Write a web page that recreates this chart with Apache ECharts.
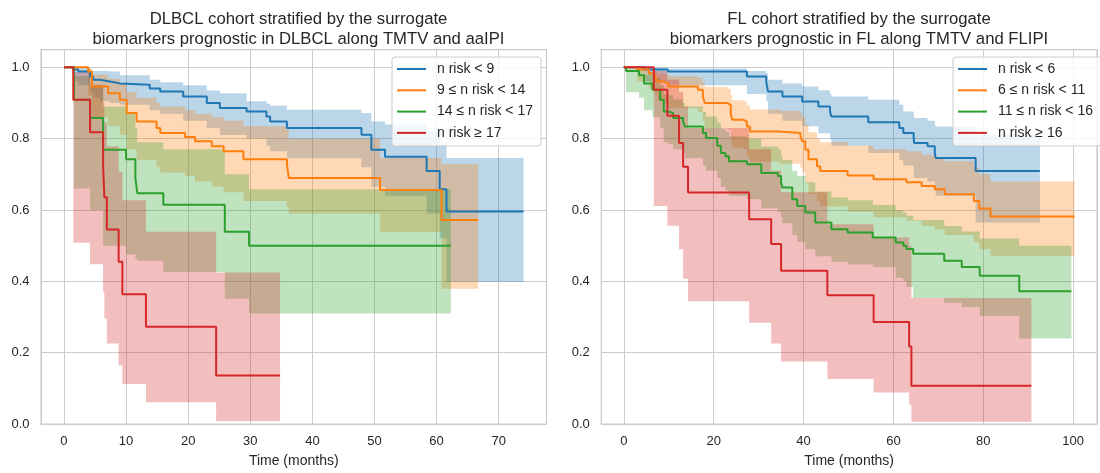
<!DOCTYPE html>
<html><head><meta charset="utf-8">
<script src="https://cdn.jsdelivr.net/npm/echarts@6/dist/echarts.min.js"></script>
<style>html,body{margin:0;padding:0;background:#fff}#c{width:1100px;height:473px}</style>
</head><body><div id="c"></div>
<script>
// ---------- data: rows are [time (months), survival, CI lower, CI upper] ----------
const dlbclTitle = 'DLBCL cohort stratified by the surrogate\nbiomarkers prognostic in DLBCL along TMTV and aaIPI';
const flTitle = 'FL cohort stratified by the surrogate\nbiomarkers prognostic in FL along TMTV and FLIPI';
const xLabel = 'Time (months)';
const dlbclNames = ['n risk < 9', '9 \u2264 n risk < 14', '14 \u2264 n risk < 17', 'n risk \u2265 17'];
const flNames = ['n risk < 6', '6 \u2264 n risk < 11', '11 \u2264 n risk < 16', 'n risk \u2265 16'];
const yTicks = [0, 0.2, 0.4, 0.6, 0.8, 1.0];
const dlbclXTicks = [0, 10, 20, 30, 40, 50, 60, 70];
const flXTicks = [0, 20, 40, 60, 80, 100];

const dlbclG1 = [
 [0,1,1,1],[1.5,.994,.96,.999],[2.3,.988,.95,.998],[4.2,.974,.93,.99],[4.7,.965,.915,.99],
 [5.8,.96,.905,.99],[7.4,.955,.90,.988],[9.0,.951,.895,.978],[13.8,.941,.88,.965],[15.5,.932,.87,.958],
 [19.2,.918,.85,.95],[23.0,.90,.83,.935],[25.1,.886,.81,.927],[29.4,.876,.80,.905],[32.6,.862,.78,.898],
 [33.2,.848,.765,.892],[35.9,.830,.745,.881],[47.9,.811,.72,.872],[49.5,.769,.665,.848],[51.7,.749,.64,.84],
 [58.4,.709,.59,.82],[60.5,.658,.52,.79],[61.6,.596,.398,.746],[74.0,.596,.398,.746]
];
const dlbclG2 = [
 [0,1,1,1],[3.9,.988,.92,.998],[4.5,.946,.86,.98],[7.1,.927,.835,.968],[9.0,.909,.81,.957],
 [10.1,.872,.77,.93],[11.7,.848,.74,.915],[14.9,.830,.72,.90],[15.5,.816,.705,.89],[19.5,.805,.695,.88],
 [21.1,.793,.68,.87],[23.8,.779,.665,.86],[25.7,.765,.65,.85],[28.9,.742,.625,.835],[35.9,.728,.61,.825],
 [36.2,.690,.59,.80],[50.9,.656,.538,.746],[60.8,.572,.379,.728],[66.7,.572,.379,.728]
];
const dlbclG3 = [
 [0,1,1,1],[1.6,.909,.66,.976],[4.2,.858,.60,.95],[6.3,.769,.50,.89],[10.0,.742,.475,.87],
 [11.5,.69,.462,.83],[11.8,.647,.458,.79],[16.0,.615,.426,.77],[25.9,.539,.351,.70],[29.8,.50,.31,.658],
 [62.3,.50,.31,.658]
];
const dlbclG4 = [
 [0,1,1,1],[1.5,.909,.508,.987],[4.2,.818,.448,.951],[6.3,.727,.37,.903],[6.5,.636,.296,.845],
 [6.9,.545,.226,.779],[8.8,.455,.165,.707],[9.4,.364,.112,.627],[13.2,.273,.061,.539],[24.5,.136,.008,.425],
 [34.8,.136,.008,.425]
];

const flG1 = [
 [0,1,1,1],[4.5,.994,.96,.999],[9.8,.988,.95,.997],[27.4,.974,.925,.99],[31.7,.96,.905,.983],
 [32.1,.932,.87,.965],[35.3,.918,.85,.955],[39.7,.904,.835,.946],[43.3,.89,.815,.936],[45.9,.876,.80,.926],
 [46.2,.862,.78,.918],[54.4,.846,.76,.909],[61.3,.830,.74,.895],[62.2,.816,.725,.876],[64.5,.806,.71,.87],
 [64.6,.788,.69,.858],[67.6,.779,.68,.85],[69.2,.760,.655,.838],[69.4,.746,.64,.834],[78.3,.709,.565,.811],
 [92.6,.709,.565,.811]
];
const flG2 = [
 [0,1,1,1],[3.0,.994,.96,.999],[5.6,.983,.94,.995],[6.7,.978,.93,.992],[7.1,.969,.92,.988],
 [7.5,.96,.905,.983],[8.9,.955,.90,.98],[9.9,.946,.885,.975],[16.5,.937,.875,.97],[17.6,.918,.85,.957],
 [18.0,.90,.83,.945],[23.0,.895,.825,.94],[23.8,.872,.795,.922],[24.1,.853,.775,.908],[26.6,.848,.77,.905],
 [27.4,.834,.75,.893],[28.1,.820,.735,.882],[34.6,.816,.73,.878],[39.3,.808,.72,.872],[39.7,.793,.705,.86],
 [40.4,.769,.675,.84],[41.1,.742,.645,.818],[43.0,.723,.625,.80],[43.7,.709,.61,.79],[49.8,.697,.595,.78],
 [55.6,.686,.58,.77],[62.9,.678,.57,.765],[66.3,.667,.555,.755],[69.2,.658,.545,.748],[71.4,.644,.53,.737],
 [77.9,.625,.51,.72],[79.1,.604,.49,.70],[81.6,.582,.472,.68],[100.3,.582,.472,.68]
];
const flG3 = [
 [0,1,1,1],[0.5,.99,.93,.999],[3.4,.978,.915,.993],[4.5,.955,.88,.98],[6.4,.937,.86,.97],
 [8.1,.909,.83,.95],[8.9,.876,.79,.925],[9.9,.872,.785,.922],[11.0,.858,.77,.91],[13.2,.848,.76,.90],
 [13.6,.834,.745,.89],[17.6,.816,.725,.875],[18.3,.802,.71,.862],[20.8,.78,.69,.845],[21.6,.760,.665,.828],
 [22.6,.751,.655,.82],[23.4,.737,.64,.807],[27.4,.728,.63,.80],[30.6,.704,.605,.778],[34.3,.695,.595,.77],
 [35.0,.677,.578,.754],[35.3,.663,.563,.74],[37.5,.630,.53,.71],[38.6,.611,.51,.695],[40.4,.593,.49,.678],
 [42.6,.565,.47,.652],[46.2,.546,.455,.635],[49.8,.537,.447,.627],[55.4,.523,.44,.614],[60.5,.509,.41,.60],
 [62.2,.50,.40,.592],[62.9,.491,.384,.584],[64.4,.477,.353,.572],[71.3,.458,.34,.555],[75.2,.44,.328,.54],
 [79.2,.416,.303,.52],[88.0,.372,.24,.50],[99.6,.372,.24,.50]
];
const flG4 = [
 [0,1,1,1],[6.7,.937,.611,.99],[9.7,.864,.556,.965],[12.3,.788,.49,.93],[13.2,.721,.407,.89],
 [14.3,.649,.344,.83],[27.9,.574,.284,.77],[32.8,.505,.226,.71],[35.0,.430,.175,.65],[45.3,.361,.126,.56],
 [55.6,.286,.088,.523],[63.5,.217,.054,.50],[64.0,.107,.006,.353],[90.7,.107,.006,.353]
];

// ---------- styling ----------
const FONT = "'Liberation Sans', Arial, Helvetica, sans-serif";
const COLORS = ['#1f77b4', '#ff7f0e', '#2ca02c', '#d62728'];
const TXT = '#262626';
const GRIDC = '#cccccc';
const CI_ALPHA = 0.3;

function rgba(hex, a) {
  const n = parseInt(hex.slice(1), 16);
  return 'rgba(' + (n >> 16 & 255) + ',' + (n >> 8 & 255) + ',' + (n & 255) + ',' + a + ')';
}

function bandSeries(rows, color, idx) {
  return {
    type: 'custom', xAxisIndex: idx, yAxisIndex: idx, silent: true, z: 1, clip: true,
    data: [[rows[0][0], rows[0][1]]],
    renderItem: function (params, api) {
      const up = [], lo = [];
      for (let i = 0; i < rows.length; i++) {
        const t0 = rows[i][0];
        const t1 = i + 1 < rows.length ? rows[i + 1][0] : rows[i][0];
        up.push(api.coord([t0, rows[i][3]]), api.coord([t1, rows[i][3]]));
        lo.push(api.coord([t0, rows[i][2]]), api.coord([t1, rows[i][2]]));
      }
      const pts = up.concat(lo.reverse());
      return {type: 'polygon', shape: {points: pts}, style: {fill: rgba(color, CI_ALPHA), stroke: null}};
    }
  };
}
function lineSeries(rows, name, color, idx) {
  return {type: 'line', name: name, xAxisIndex: idx, yAxisIndex: idx, step: 'end', symbol: 'none',
    silent: true, z: 3, data: rows.map(r => [r[0], r[1]]),
    lineStyle: {color: color, width: 2}, itemStyle: {color: color}};
}

function near(list, v) { return list.some(t => Math.abs(t - v) < 1e-6); }

function xAxis(idx, min, max, step, ticks) {
  return {type: 'value', gridIndex: idx, min, max, minInterval: step, maxInterval: step,
    name: xLabel, nameLocation: 'middle', nameGap: 30,
    nameTextStyle: {color: TXT, fontFamily: FONT, fontSize: 14},
    axisLine: {show: false}, axisTick: {show: false},
    axisLabel: {color: TXT, fontFamily: FONT, fontSize: 13, margin: 10.5,
      formatter: v => near(ticks, v) ? String(Math.round(v)) : ''},
    splitLine: {show: true, lineStyle: {color: GRIDC, width: 1}}};
}
function yAxis(idx) {
  return {type: 'value', gridIndex: idx, min: 0, max: 1.05, interval: 0.2,
    axisLine: {show: false}, axisTick: {show: false},
    axisLabel: {color: TXT, fontFamily: FONT, fontSize: 13, margin: 11.5,
      formatter: v => near(yTicks, v) ? v.toFixed(1) : ''},
    splitLine: {show: true, lineStyle: {color: GRIDC, width: 1}}};
}
function legend(names, left) {
  return {data: names, orient: 'vertical', left: left, top: 57, selectedMode: false,
    icon: 'rect', itemWidth: 29, itemHeight: 2, itemGap: 7.3,
    padding: [5, 8, 6, 5],
    backgroundColor: 'rgba(255,255,255,0.8)', borderColor: GRIDC, borderWidth: 1, borderRadius: 3,
    textStyle: {color: TXT, fontFamily: FONT, fontSize: 14, padding: [0, 0, 0, 6]}};
}

const groups = [
  [dlbclG1, dlbclNames[0], 0, 0], [dlbclG2, dlbclNames[1], 1, 0], [dlbclG3, dlbclNames[2], 2, 0], [dlbclG4, dlbclNames[3], 3, 0],
  [flG1, flNames[0], 0, 1], [flG2, flNames[1], 1, 1], [flG3, flNames[2], 2, 1], [flG4, flNames[3], 3, 1]
];
const series = [];
groups.forEach(g => series.push(bandSeries(g[0], COLORS[g[2]], g[3])));
groups.forEach(g => series.push(lineSeries(g[0], g[1], COLORS[g[2]], g[3])));

const option = {
  animation: false,
  backgroundColor: '#ffffff',
  title: [
    {text: dlbclTitle, left: 293.5, top: 5, textAlign: 'center',
     textStyle: {color: TXT, fontFamily: FONT, fontSize: 16.7, fontWeight: 'normal', lineHeight: 19.3}},
    {text: flTitle, left: 854, top: 5, textAlign: 'center',
     textStyle: {color: TXT, fontFamily: FONT, fontSize: 16.7, fontWeight: 'normal', lineHeight: 19.3}}
  ],
  legend: [legend(dlbclNames, 392), legend(flNames, 953)],
  grid: [
    {left: 41, top: 49.5, width: 505.5, height: 377, show: true, borderColor: GRIDC, borderWidth: 1.25, backgroundColor: 'transparent'},
    {left: 601.3, top: 49.5, width: 507, height: 377, show: true, borderColor: GRIDC, borderWidth: 1.25, backgroundColor: 'transparent'}
  ],
  xAxis: [xAxis(0, -3.7, 77.7, 10, dlbclXTicks), xAxis(1, -5.0, 105.3, 20, flXTicks)],
  yAxis: [yAxis(0), yAxis(1)],
  series: series
};

const chart = echarts.init(document.getElementById('c'), null, {renderer: 'canvas'});
chart.setOption(option);
</script>
</body></html>
